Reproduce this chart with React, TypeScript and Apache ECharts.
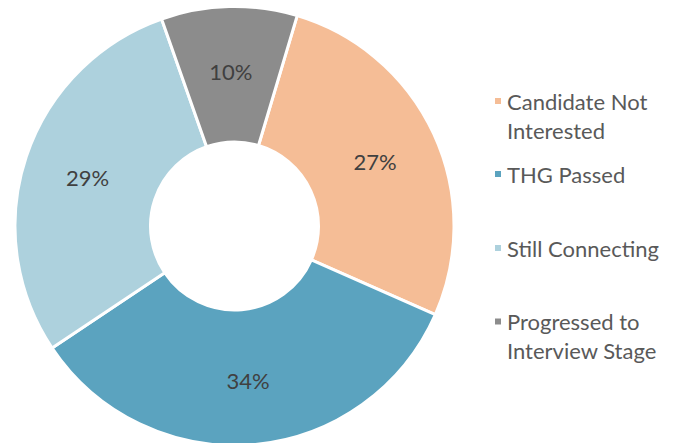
import React, { useEffect, useRef } from "react";
import * as echarts from "echarts";

const categories = [
  "Candidate Not Interested",
  "THG Passed",
  "Still Connecting",
  "Progressed to Interview Stage",
];
const values = [27, 34, 29, 10];
const legendLines = [
  ["Candidate Not", "Interested"],
  ["THG Passed"],
  ["Still Connecting"],
  ["Progressed to", "Interview Stage"],
];
const colors = ["#F5BD96", "#5BA3BF", "#ADD1DD", "#8C8C8C"];

const FONT = "Lato";
const LH = 29;
const legendIconCenters = [101, 174, 248, 321.5];

export default function App() {
  const ref = useRef<HTMLDivElement>(null);
  useEffect(() => {
    if (!ref.current) return;
    const chart = echarts.init(ref.current, undefined, { renderer: "svg" });
    const legends = categories.map((name, i) => {
      const lines = legendLines[i];
      const multi = lines.length > 1;
      const half = multi ? (LH * 3) / 2 : LH / 2;
      return {
        orient: "vertical",
        left: 493,
        top: legendIconCenters[i] - 4 - half + 4,
        padding: 0,
        itemWidth: 8,
        itemHeight: 8,
        icon: "rect",
        data: [name],
        formatter: () => (multi ? "\n" + lines.join("\n") : lines[0]),
        textStyle: {
          fontFamily: FONT,
          fontSize: 22,
          color: "#595959",
          lineHeight: LH,
        },
      };
    });
    chart.setOption({
      animation: false,
      backgroundColor: "#ffffff",
      color: colors,
      legend: legends,
      series: [
        {
          type: "pie",
          center: [234.5, 226],
          radius: [84, 219.5],
          startAngle: 73.4,
          clockwise: true,
          avoidLabelOverlap: false,
          itemStyle: { borderColor: "#ffffff", borderWidth: 3 },
          label: {
            show: true,
            position: "inside",
            formatter: "{c}%",
            fontFamily: FONT,
            fontSize: 22,
            color: "#404040",
          },
          labelLine: { show: false },
          emphasis: { disabled: true },
          data: categories.map((name, i) => ({ name, value: values[i] })),
        },
      ],
    });
    return () => chart.dispose();
  }, []);
  return (
    <div
      ref={ref}
      style={{ position: "absolute", left: 0, top: 0, width: 674, height: 443 }}
    />
  );
}
